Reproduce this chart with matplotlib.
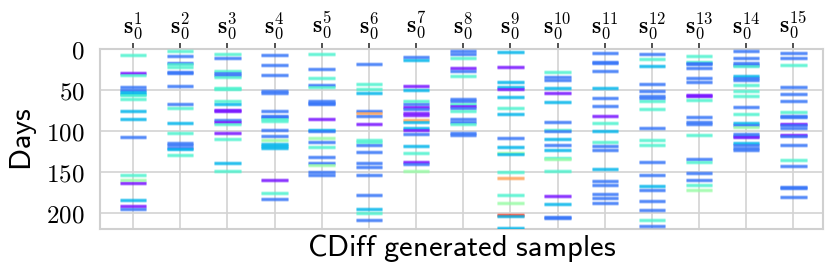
import matplotlib
matplotlib.use("Agg")
import matplotlib.pyplot as plt
import numpy as np

plt.rcParams['mathtext.fontset'] = 'cm'

# event days (y) and event type codes per generated sample
# type codes: P purple, B blue, A azure, T turquoise, G light green, O orange, R red
s1_days = [6.5, 29, 31.8, 45.7, 49.4, 51.8, 54.3, 56.3, 60.8, 75.5, 85.7, 108, 153.5, 160.4, 163.7, 185, 191.8, 195.9]
s1_type = "TPTBBAATTAABTGPAPB"

s2_days = [2, 8.6, 16.3, 18.4, 21.6, 27.8, 29.4, 44.9, 67.3, 71.8, 89.8, 102.4, 114.7, 117.6, 120.4, 122.4, 129]
s2_type = "TBBTTBBBBTATBBBAT"

s3_days = [6.1, 10.6, 26.1, 29.4, 31.8, 34.3, 46.9, 48.6, 63.7, 66.5, 73.9, 75.9, 86.5, 89, 91.4, 102.9, 109.8, 138.8, 149.4]
s3_type = "TBTBBTTTTAPPBPTPTAT"

s4_days = [6.9, 18.8, 31, 51.4, 53, 75.1, 81.2, 83.3, 85.7, 87.8, 99.2, 106.1, 111, 116.3, 118.8, 121.2, 160.4, 176.3, 182.9]
s4_type = "BBBBBBBBTTBBGAAAPTB"

s5_days = [5.3, 24.5, 35.5, 44.1, 46.1, 62.9, 65.3, 66.9, 85.3, 98.4, 100.4, 109, 113.5, 119.6, 131.4, 139.6, 141.2, 149.8, 153.9]
s5_type = "TBTBTBBBPABGBTBBGBB"

s6_days = [18, 42.9, 49, 53.5, 75.9, 78, 81.2, 91.4, 111.4, 113, 116.7, 126.1, 139.2, 144.5, 154.3, 178.8, 195.5, 200.4, 208.6]
s6_type = "BTTABOBPTTBBBBBBATB"

s7_days = [9.4, 13.5, 45.3, 49.4, 63.7, 66.9, 70.6, 73.5, 78.4, 80.4, 86.5, 89, 96.3, 98.8, 104.1, 118.4, 126.9, 138.4, 140.8, 148.6]
s7_type = "BAPATBPBPPOAAPBATPBG"

s8_days = [2, 6.1, 10.6, 22.9, 26.9, 32.7, 60.4, 63.3, 66.5, 69.4, 71.4, 75.1, 85.7, 89, 91.4, 102, 104.5]
s8_type = "BBTPBTBBTPBTBBTBB"

s9_days = [3.3, 22, 39.6, 46.5, 49, 58.8, 71.8, 78.8, 109, 119.2, 126.5, 128.2, 150.2, 158, 178, 188.6, 202.4, 204, 218.8]
s9_type = "APAAPATABAGATOTGRAA"

s10_days = [27.8, 33.9, 37.6, 47.3, 53.9, 64.9, 89, 98.8, 100.4, 109.4, 117.1, 122.9, 132.7, 133.9, 149.4, 179.6, 188.9, 204.9, 206.5]
s10_type = "TBBAPABTBABATGTPABB"

s11_days = [4.1, 15.5, 16.7, 26.9, 47.8, 59.6, 69, 81.6, 89.8, 100, 113.1, 118, 123.3, 146.5, 161.2, 166.1, 176.7, 182, 187.8]
s11_type = "BBBBABBPTATBBABBBBB"

s12_days = [5.3, 11.4, 20.8, 42, 51.4, 57.6, 59.6, 63.3, 73.1, 95.9, 110.6, 117.1, 138.4, 154.3, 167.8, 172.2, 186.1, 197.1, 208.9, 215.9]
s12_type = "BTABBBBTTBTTBBABBBTB"

s13_days = [7.8, 15.1, 16.7, 18.4, 23.3, 34.7, 40.4, 56.3, 57.6, 61.6, 82.9, 89.4, 91, 104.9, 134.3, 137.9, 151.4, 159.6, 166.1, 171.8]
s13_type = "TTBBBBBPPTBBBTBTBBTG"

s14_days = [2, 10.2, 16.7, 18.8, 20, 32.7, 34.7, 37.6, 43.3, 51.4, 57.6, 70.2, 78.8, 90.2, 93, 95.1, 103.7, 105.7, 107.8, 114.7, 117.6, 121.2, 123.7]
s14_type = "BBBBTABBTTTBTABGBBPABBB"

s15_days = [4.5, 10.6, 19.2, 45.7, 54.7, 63.3, 77.1, 81.6, 83.3, 91.4, 93, 96.7, 104.5, 106.5, 117.1, 135.9, 142.9, 168.2, 169.8, 180.8]
s15_type = "BBTBBBTBBPBBPBBTBBBB"

sample_days = [s1_days, s2_days, s3_days, s4_days, s5_days, s6_days, s7_days, s8_days,
               s9_days, s10_days, s11_days, s12_days, s13_days, s14_days, s15_days]
sample_types = [s1_type, s2_type, s3_type, s4_type, s5_type, s6_type, s7_type, s8_type,
                s9_type, s10_type, s11_type, s12_type, s13_type, s14_type, s15_type]
tick_labels = [r'$\mathbf{s}_0^{%d}$' % i for i in range(1, 16)]
ytick_vals = [0, 50, 100, 150, 200]

type_pos = {'P': 0.02, 'B': 0.15, 'A': 0.25, 'T': 0.40, 'G': 0.55, 'O': 0.78, 'R': 0.93}
cmap = plt.get_cmap('rainbow')

fig = plt.figure(figsize=(8.31, 2.72), dpi=100)
ax = fig.add_axes([0.1203, 0.158, 0.8697, 0.661])

xs = np.arange(1, len(sample_days) + 1)
half = 0.28
for x, d, t in zip(xs, sample_days, sample_types):
    cols = [cmap(type_pos[c]) for c in t]
    ax.hlines(d, x - half, x + half, colors=cols, linewidth=3.6, alpha=0.22, zorder=3)
    ax.hlines(d, x - half, x + half, colors=cols, linewidth=1.8, alpha=0.8, zorder=4)

ax.set_xlim(0.3, 15.62)
ax.set_ylim(220, 0)
ax.xaxis.tick_top()
ax.set_xticks(xs)
ax.set_xticklabels(tick_labels, fontsize=17)
ax.set_yticks(ytick_vals)
ax.set_yticklabels([r'$%d$' % v for v in ytick_vals], fontsize=18)
ax.tick_params(axis='x', top=True, length=4, width=1.2, color='#333333', pad=2)
ax.tick_params(axis='y', length=0, pad=11)
ax.grid(True, color='#d3d3d3', linewidth=1.2, zorder=0)
ax.set_axisbelow(True)
for sp in ax.spines.values():
    sp.set_color('#d0d0d0')
    sp.set_linewidth(1.5)

ax.set_ylabel(r'$\mathsf{Days}$', fontsize=22, labelpad=5)
ax.set_xlabel(r'$\mathsf{CDiff\ generated\ samples}$', fontsize=22, labelpad=2)

fig.savefig('out.png', dpi=100)
